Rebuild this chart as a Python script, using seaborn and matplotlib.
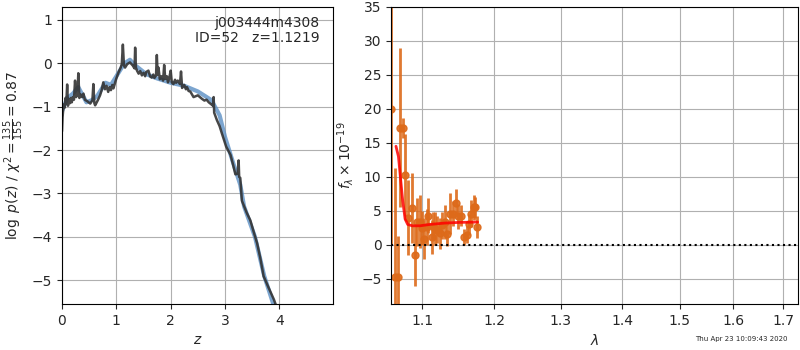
import numpy as np
import pandas as pd
import matplotlib
matplotlib.use('Agg')
import matplotlib.pyplot as plt
import seaborn as sns
from matplotlib.ticker import FixedLocator, FixedFormatter, NullLocator

# redshift grid, raw log p(z)
z_raw = [0.00, 0.01, 0.02, 0.035, 0.05, 0.065, 0.08, 0.095, 0.11, 0.125, 0.147, 0.165, 0.18, 0.20,
         0.22, 0.24, 0.26, 0.285, 0.30, 0.32, 0.345, 0.37, 0.395, 0.42, 0.47, 0.52, 0.56, 0.577,
         0.595, 0.61, 0.66, 0.70, 0.73, 0.76, 0.79, 0.82, 0.85, 0.875, 0.90, 0.925, 0.946, 1.00,
         1.04, 1.08, 1.10, 1.12, 1.14, 1.16, 1.20, 1.25, 1.30, 1.335, 1.346, 1.36, 1.38, 1.41,
         1.44, 1.47, 1.50, 1.53, 1.55, 1.59, 1.62, 1.65, 1.68, 1.70, 1.73, 1.745, 1.76, 1.775,
         1.80, 1.83, 1.86, 1.88, 1.90, 1.93, 1.95, 1.97, 2.00, 2.02, 2.05, 2.08, 2.10, 2.13,
         2.17, 2.19, 2.21, 2.25, 2.28, 2.30, 2.33, 2.36, 2.42, 2.50, 2.575, 2.62, 2.66, 2.70,
         2.75, 2.78, 2.79, 2.80, 2.85, 2.90, 2.94, 3.02, 3.10, 3.15, 3.19, 3.23, 3.25, 3.26,
         3.28, 3.31, 3.40, 3.465, 3.53, 3.59, 3.65, 3.71, 3.80, 3.90, 4.00]
lnp_raw = [-1.57, -1.25, -1.10, -0.95, -1.02, -0.80, -0.92, -0.49, -0.98, -0.82, -0.92, -0.80, -0.90, -0.78,
           -0.84, -0.40, -0.78, -0.70, -0.23, -0.80, -0.72, -0.78, -0.70, -0.84, -0.88, -0.93, -0.85, -0.48,
           -0.92, -0.97, -0.85, -0.74, -0.62, -0.44, -0.60, -0.52, -0.66, -0.55, -0.62, -0.50, -0.58, -0.35,
           -0.21, -0.10, -0.02, 0.43, -0.05, -0.10, -0.02, 0.02, -0.05, -0.12, 0.36, -0.10, -0.17, -0.24,
           -0.18, -0.28, -0.22, -0.30, -0.20, -0.17, -0.30, -0.33, -0.26, -0.34, -0.28, 0.19, -0.27, -0.10,
           -0.37, -0.30, -0.40, -0.04, -0.36, -0.30, -0.44, -0.36, -0.17, -0.44, -0.48, -0.38, -0.45, -0.40,
           -0.48, -0.19, -0.57, -0.50, -0.60, -0.55, -0.64, -0.65, -0.78, -0.74, -0.82, -0.86, -0.84, -0.90,
           -0.95, -0.98, -0.78, -1.14, -1.31, -1.45, -1.61, -1.92, -2.11, -2.35, -2.56, -2.55, -2.24, -2.62,
           -2.64, -3.17, -3.45, -3.62, -3.90, -4.15, -4.50, -4.91, -5.17, -5.45, -5.80]

# smoothed log p(z)
z_smooth = [0.00, 0.10, 0.20, 0.30, 0.45, 0.55, 0.65, 0.80, 0.90, 1.00, 1.15, 1.25, 1.35, 1.55, 1.75,
            2.00, 2.25, 2.50, 2.75, 2.90, 3.00, 3.15, 3.28, 3.35, 3.55, 3.72, 3.90, 4.00]
lnp_smooth = [-1.10, -0.80, -0.70, -0.55, -0.90, -0.85, -0.75, -0.45, -0.50, -0.30, 0.00, 0.08, -0.05, -0.25, -0.35,
              -0.45, -0.52, -0.65, -0.85, -1.20, -1.70, -2.30, -2.80, -3.30, -4.00, -4.90, -5.60, -6.00]

# spectrum: wavelength (micron), flux, error (x 1e-19)
wave = [1.0598, 1.0648, 1.0690, 1.0712, 1.0746, 1.0776, 1.0820, 1.0864, 1.0908, 1.0938, 1.0974,
        1.1000, 1.1030, 1.1060, 1.1084, 1.1129, 1.1150, 1.1173, 1.1204, 1.1240, 1.1271, 1.1307,
        1.1338, 1.1375, 1.1420, 1.1452, 1.1488, 1.1525, 1.1566, 1.1611, 1.1640, 1.1672, 1.1708,
        1.1727, 1.1750]
flux = [20.0, -4.66, -4.66, 17.2, 17.2, 10.3, 4.0, 5.4, -1.5, 3.4, 3.4,
        2.5, 0.9, 2.6, 4.3, 1.1, 2.8, 2.4, 2.2, 1.7, 2.9, 3.3,
        1.6, 4.6, 4.6, 6.2, 4.2, 4.3, 1.2, 1.5, 3.0, 4.6, 5.5,
        5.5, 2.6]
ferr = [20.0, 16.0, 6.0, 11.7, 1.5, 6.0, 5.5, 5.1, 4.5, 3.5, 3.9,
        2.5, 3.0, 2.6, 2.6, 2.5, 2.0, 2.4, 2.0, 2.3, 2.0, 2.5,
        1.7, 3.0, 1.8, 2.0, 1.8, 1.6, 1.2, 1.3, 1.6, 2.0, 1.8,
        1.5, 1.6]

# best-fit model
wave_model = [1.0658, 1.0690, 1.0715, 1.0745, 1.0776, 1.0810, 1.0870, 1.0970, 1.1100, 1.1300, 1.1500, 1.1760]
flux_model = [14.5, 13.0, 10.0, 6.5, 3.8, 3.0, 2.8, 2.8, 3.0, 3.2, 3.3, 3.35]

xticks = [1.1, 1.2, 1.3, 1.4, 1.5, 1.6, 1.7]

sns.set_style('ticks', {'axes.grid': True, 'grid.color': '#b0b0b0', 'axes.edgecolor': 'black'})
plt.rcParams['font.family'] = ['DejaVu Sans']
plt.rcParams['font.size'] = 10

fig = plt.figure(figsize=(8, 3.5), dpi=100)
ax1 = fig.add_axes([0.0775, 0.1314, 0.339, 0.849])
ax2 = fig.add_axes([0.489, 0.1314, 0.509, 0.849])

raw = pd.DataFrame({'z': z_raw, 'lnp': lnp_raw})
smooth = pd.DataFrame({'z': z_smooth, 'lnp': lnp_smooth})
sns.lineplot(data=smooth, x='z', y='lnp', ax=ax1, color='#5b8fc4', alpha=0.8, lw=3,
             sort=False, estimator=None)
sns.lineplot(data=raw, x='z', y='lnp', ax=ax1, color='#333333', alpha=0.9, lw=1.8,
             sort=False, estimator=None)
ax1.set_xlim(0, 4.99)
ax1.set_ylim(-5.55, 1.3)
ax1.set_xticks([0, 1, 2, 3, 4])
ax1.set_xlabel('$z$')
ax1.set_ylabel(r'$\log\ p(z)$ / $\chi^2=\frac{135}{155}=0.87$')
ax1.text(0.95, 0.97, 'j003444m4308\nID=52   z=1.1219', transform=ax1.transAxes,
         ha='right', va='top', fontsize=10, linespacing=1.15)
ax1.grid(True)

orange = '#dd6a1a'
ax2.errorbar(wave, flux, yerr=ferr, fmt='o', color=orange, ms=5, lw=2, alpha=0.9,
             elinewidth=2, zorder=2)
model = pd.DataFrame({'wave': wave_model, 'flux': flux_model})
sns.lineplot(data=model, x='wave', y='flux', ax=ax2, color='red', lw=2, alpha=0.85,
             sort=False, estimator=None, zorder=3)
ax2.axhline(0, color='black', ls=':', lw=1.5, zorder=4)
ax2.set_xscale('log')
ax2.set_xlim(1.0597, 1.731)
ax2.set_ylim(-8.7, 35)
ax2.xaxis.set_major_locator(FixedLocator(xticks))
ax2.xaxis.set_major_formatter(FixedFormatter([f'{t:.1f}' for t in xticks]))
ax2.xaxis.set_minor_locator(NullLocator())
ax2.set_xlabel(r'$\lambda$')
ax2.set_ylabel(r'$f_\lambda\times10^{-19}$')
ax2.grid(True)

for ax in (ax1, ax2):
    ax.tick_params(direction='out', length=3.5, width=0.8, labelsize=10)
    for s in ax.spines.values():
        s.set_linewidth(0.8)
        s.set_visible(True)

fig.text(0.985, 0.022, 'Thu Apr 23 10:09:43 2020', ha='right', va='bottom', fontsize=5)
fig.savefig('out.png', dpi=100)
